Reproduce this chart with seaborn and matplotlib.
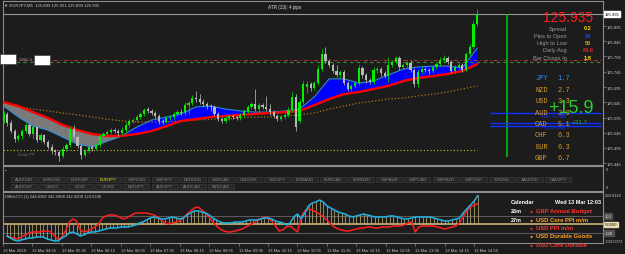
import numpy as np
import matplotlib
matplotlib.use("Agg")
import matplotlib.pyplot as plt
from matplotlib.patches import Rectangle
import seaborn as sns

sns.set_theme(style="dark")
plt.rcParams['font.family'] = ['Liberation Sans', 'DejaVu Sans']

W, H = 625, 255
BG = '#1c1c1c'
EDGE = '#8c8c8c'
TXT = '#c8c8c8'

# ==================== EURJPY M5 candles ====================
opens = [125.584, 125.607, 125.577, 125.551, 125.525, 125.535, 125.551, 125.571, 125.541, 125.564,
         125.521, 125.538, 125.515, 125.499, 125.485, 125.482, 125.469, 125.492, 125.505, 125.558,
         125.531, 125.502, 125.472, 125.485, 125.499, 125.492, 125.505, 125.535, 125.541, 125.548,
         125.554, 125.551, 125.544, 125.554, 125.571, 125.584, 125.587, 125.597, 125.607, 125.623,
         125.617, 125.610, 125.600, 125.584, 125.581, 125.594, 125.597, 125.607, 125.613, 125.610,
         125.636, 125.643, 125.659, 125.656, 125.646, 125.640, 125.633, 125.630, 125.607, 125.590,
         125.584, 125.594, 125.600, 125.597, 125.594, 125.604, 125.617, 125.630, 125.640, 125.623,
         125.636, 125.630, 125.623, 125.613, 125.600, 125.590, 125.597, 125.604, 125.620, 125.663,
         125.584, 125.646, 125.695, 125.705, 125.692, 125.708, 125.754, 125.804, 125.781, 125.768,
         125.748, 125.735, 125.745, 125.708, 125.689, 125.699, 125.708, 125.758, 125.735, 125.718,
         125.712, 125.751, 125.754, 125.741, 125.731, 125.768, 125.777, 125.790, 125.761, 125.768,
         125.774, 125.751, 125.705, 125.745, 125.754, 125.751, 125.748, 125.761, 125.771, 125.784,
         125.790, 125.777, 125.748, 125.761, 125.768, 125.751, 125.804, 125.827, 125.902]
closes = [125.607, 125.577, 125.551, 125.525, 125.535, 125.551, 125.571, 125.541, 125.564, 125.521,
          125.538, 125.515, 125.499, 125.485, 125.482, 125.469, 125.492, 125.505, 125.558, 125.531,
          125.502, 125.472, 125.485, 125.499, 125.492, 125.505, 125.535, 125.541, 125.548, 125.554,
          125.551, 125.544, 125.554, 125.571, 125.584, 125.587, 125.597, 125.607, 125.620, 125.617,
          125.610, 125.600, 125.584, 125.581, 125.594, 125.597, 125.607, 125.613, 125.610, 125.636,
          125.643, 125.659, 125.656, 125.646, 125.640, 125.633, 125.630, 125.607, 125.590, 125.584,
          125.594, 125.600, 125.597, 125.594, 125.604, 125.617, 125.630, 125.640, 125.623, 125.636,
          125.630, 125.623, 125.613, 125.600, 125.590, 125.597, 125.604, 125.620, 125.663, 125.564,
          125.646, 125.705, 125.705, 125.692, 125.708, 125.754, 125.804, 125.781, 125.768, 125.748,
          125.735, 125.745, 125.708, 125.689, 125.699, 125.708, 125.758, 125.735, 125.718, 125.712,
          125.751, 125.754, 125.741, 125.731, 125.768, 125.777, 125.790, 125.761, 125.768, 125.774,
          125.751, 125.705, 125.745, 125.754, 125.751, 125.748, 125.761, 125.771, 125.784, 125.790,
          125.777, 125.748, 125.761, 125.768, 125.751, 125.804, 125.827, 125.902, 125.935]
highs = [125.617, 125.613, 125.587, 125.558, 125.541, 125.558, 125.577, 125.577, 125.574, 125.567,
         125.544, 125.541, 125.521, 125.508, 125.492, 125.489, 125.502, 125.512, 125.567, 125.571,
         125.538, 125.508, 125.492, 125.505, 125.505, 125.512, 125.541, 125.548, 125.554, 125.561,
         125.561, 125.558, 125.564, 125.581, 125.590, 125.594, 125.604, 125.613, 125.626, 125.630,
         125.623, 125.617, 125.607, 125.590, 125.600, 125.604, 125.613, 125.620, 125.623, 125.646,
         125.649, 125.669, 125.682, 125.672, 125.656, 125.646, 125.640, 125.636, 125.613, 125.597,
         125.600, 125.607, 125.607, 125.604, 125.610, 125.623, 125.636, 125.646, 125.689, 125.643,
         125.643, 125.666, 125.640, 125.620, 125.607, 125.604, 125.610, 125.630, 125.679, 125.672,
         125.656, 125.715, 125.715, 125.712, 125.715, 125.768, 125.820, 125.827, 125.787, 125.774,
         125.768, 125.751, 125.751, 125.715, 125.705, 125.715, 125.768, 125.764, 125.741, 125.725,
         125.761, 125.761, 125.761, 125.748, 125.794, 125.784, 125.797, 125.797, 125.774, 125.781,
         125.784, 125.758, 125.754, 125.761, 125.761, 125.758, 125.768, 125.777, 125.794, 125.800,
         125.797, 125.784, 125.768, 125.774, 125.774, 125.810, 125.836, 125.912, 125.951]
lows = [125.577, 125.567, 125.544, 125.515, 125.518, 125.525, 125.544, 125.535, 125.525, 125.515,
        125.515, 125.508, 125.492, 125.476, 125.472, 125.453, 125.463, 125.485, 125.499, 125.525,
        125.495, 125.459, 125.466, 125.479, 125.485, 125.489, 125.499, 125.528, 125.535, 125.541,
        125.544, 125.535, 125.538, 125.548, 125.564, 125.577, 125.581, 125.590, 125.600, 125.610,
        125.604, 125.594, 125.574, 125.574, 125.577, 125.587, 125.590, 125.600, 125.604, 125.604,
        125.607, 125.636, 125.646, 125.640, 125.633, 125.623, 125.617, 125.600, 125.584, 125.577,
        125.577, 125.587, 125.590, 125.587, 125.587, 125.597, 125.610, 125.623, 125.617, 125.613,
        125.623, 125.617, 125.604, 125.594, 125.584, 125.584, 125.590, 125.597, 125.613, 125.551,
        125.577, 125.640, 125.676, 125.682, 125.686, 125.702, 125.748, 125.774, 125.761, 125.741,
        125.728, 125.725, 125.702, 125.682, 125.682, 125.692, 125.702, 125.725, 125.708, 125.705,
        125.705, 125.741, 125.731, 125.725, 125.712, 125.761, 125.771, 125.751, 125.754, 125.761,
        125.745, 125.695, 125.695, 125.741, 125.745, 125.738, 125.741, 125.754, 125.764, 125.777,
        125.771, 125.741, 125.741, 125.754, 125.745, 125.745, 125.797, 125.820, 125.895]

# moving averages, read every 4 bars
ma_bars = [0, 4, 8, 12, 16, 20, 24, 28, 32, 36, 40, 44, 48, 52, 56, 60, 64,
           68, 72, 76, 80, 84, 88, 92, 96, 100, 104, 108, 112, 116, 120, 124, 128]
slow_ma = [125.646, 125.633, 125.613, 125.594, 125.571, 125.554, 125.541, 125.535, 125.535, 125.541,
           125.551, 125.567, 125.584, 125.590, 125.597, 125.600, 125.604, 125.607, 125.610, 125.613,
           125.617, 125.636, 125.656, 125.672, 125.679, 125.689, 125.699, 125.715, 125.725, 125.731,
           125.738, 125.748, 125.771]
fast_ma = [125.633, 125.597, 125.567, 125.554, 125.531, 125.508, 125.499, 125.518, 125.535, 125.564,
           125.587, 125.597, 125.607, 125.630, 125.633, 125.623, 125.617, 125.613, 125.613, 125.617,
           125.623, 125.663, 125.722, 125.722, 125.708, 125.715, 125.735, 125.754, 125.761, 125.764,
           125.764, 125.758, 125.823]
long_ma = [125.636, 125.630, 125.623, 125.617, 125.610, 125.604, 125.597, 125.590, 125.584, 125.581,
           125.581, 125.581, 125.584, 125.587, 125.590, 125.590, 125.594, 125.597, 125.597, 125.600,
           125.604, 125.610, 125.623, 125.633, 125.643, 125.649, 125.656, 125.659, 125.666, 125.672,
           125.679, 125.689, 125.699]

price_ticks = [125.446, 125.496, 125.546, 125.595, 125.645, 125.695, 125.746, 125.796, 125.846, 125.895]
last_price = 125.935
pivot_line = 125.489
sr_red, sr_green = 125.784, 125.777
ema_levels = [125.610, 125.576, 125.569]

# ==================== CCI window ====================
cci_fast = [-135, -159, -182, -194, -182, -171, -159, -159, -147, -147,
            -147, -171, -182, -194, -194, -159, -135, -100, -88, -112,
            -135, -123, -100, -88, -88, -76, -65, -53, -41, -41,
            -41, -29, -29, -29, -18, -6, 18, 29, 53, 76,
            88, 76, 65, 65, 76, 88, 76, 65, 76, 112,
            135, 159, 159, 147, 135, 112, 76, 53, 29, 18,
            18, 18, 29, 29, 29, 41, 53, 53, 53, 65,
            76, 76, 65, 41, 29, 18, -6, 18, 88, 123,
            65, 135, 218, 253, 265, 288, 265, 218, 194, 171,
            147, 135, 123, 100, 88, 100, 112, 123, 112, 100,
            88, 88, 88, 88, 100, 100, 88, 76, 65, 65,
            76, 88, 88, 88, 88, 88, 76, 65, 53, 41,
            41, 53, 65, 76, 135, 182, 229, 276, 342]
cci_slow = [-135, -147, -159, -171, -147, -123, -100, -88, -88, -88,
            -76, -76, -88, -135, -182, -147, -76, 29, 65, 41,
            -65, -88, -76, -53, -29, 6, 76, 100, 112, 112,
            100, 76, 65, 88, 112, 135, 135, 135, 135, 123,
            112, 88, 53, 18, 6, 18, 29, 41, 76, 123,
            159, 194, 206, 171, 135, 88, 29, -18, -53, -76,
            -88, -88, -76, -65, -53, -29, -6, 18, 41, 65,
            88, 76, 41, -18, -76, -65, -29, -18, -53, -88,
            88, 159, 182, 171, 147, 123, 88, 53, 6, -29,
            -53, -65, -76, -76, -65, -53, -41, -41, -29, -29,
            -41, -41, -29, -29, -29, -18, -18, -18, -6, 18,
            29, -88, -29, -18, -18, -18, -18, -29, -41, -53,
            -41, -29, -18, 18, 88, 159, 206, 229, 244]

time_labels = ["13 Mar 2019", "13 Mar 04:55", "13 Mar 05:35", "13 Mar 06:15", "13 Mar 06:55",
               "13 Mar 07:35", "13 Mar 08:15", "13 Mar 08:55", "13 Mar 09:35", "13 Mar 10:15",
               "13 Mar 10:55", "13 Mar 11:35", "13 Mar 12:15", "13 Mar 12:55", "13 Mar 13:35",
               "13 Mar 14:15", "13 Mar 14:55"]
time_label_bars = [-1, 7, 15, 23, 31, 39, 47, 55, 63, 71, 79, 87, 95, 103, 111, 119, 127]

symbols_row1 = ["AUDUSD", "EURUSD", "EURGBP", "EURJPY", "GBPUSD", "GBPJPY", "NZDUSD", "USDCAD",
                "USDCHF", "USDJPY", "EURAUD", "EURCAD", "EURNZD", "GBPAUD", "GBPCAD", "GBPNZD",
                "GBPCHF", "XTIUSD", "XAUUSD", "CADJPY"]
symbols_row2 = ["AUDCHF", "US500", "DE30", "UK100", "NZDJPY", "AUDJPY", "AUDCAD", "NZDCAD"]

currencies = ["JPY", "NZD", "USD", "AUD", "CAD", "CHF", "EUR", "GBP"]
strength = ["1.7", "2.7", "3.3", "3.9", "5.1", "6.3", "6.3", "6.7"]

info_labels = ["Spread", "Pips to Open", "High to Low", "Daily Avg", "Bar Closes In"]
info_values = ["0.2", "24", "50", "84.0", "1:8"]
info_colors = ['#ffd700', '#2040ff', '#d4a020', '#ff2020', '#ffd700']

calendar_rows = [("26m", "GBP Annual Budget", '#ff3030'),
                 ("27m", "USD Core PPI m/m", '#ffa020'),
                 ("", "USD PPI m/m", '#ff3030'),
                 ("", "USD Durable Goods", '#ffa020'),
                 ("", "USD Core Durable", '#ff3030')]

# ==================== figure ====================
fig = plt.figure(figsize=(W / 100, H / 100), dpi=100, facecolor=BG)


def px_axes(x0, y0, x1, y1):
    return fig.add_axes([x0 / W, 1 - y1 / H, (x1 - x0) / W, (y1 - y0) / H])


def style_panel(a):
    a.set_facecolor(BG)
    a.grid(False)
    for s in a.spines.values():
        s.set_color(EDGE)
        s.set_linewidth(0.8)


XLIM = (-0.14, 162.0)

# ---------- main price window ----------
ax = px_axes(3, 2, 603, 166)
style_panel(ax)
ax.set_xlim(*XLIM)
ax.set_ylim(125.4396, 125.9774)

bars = np.arange(len(closes))
o, hi, lo, c = map(np.array, (opens, highs, lows, closes))
up = c >= o

g = np.array(ma_bars)
sm, fm = np.array(slow_ma), np.array(fast_ma)
ax.fill_between(g, sm, fm, where=fm >= sm, interpolate=True, color='#0000ff', lw=0, zorder=1)
ax.fill_between(g, sm, fm, where=fm <= sm, interpolate=True, color='#7a7a7a', lw=0, zorder=1)
sns.lineplot(x=ma_bars, y=fast_ma, ax=ax, color='#2c8ad8', lw=0.8, zorder=2)
sns.lineplot(x=ma_bars, y=long_ma, ax=ax, color='#b07818', lw=0.9, linestyle=':', zorder=2)
sns.lineplot(x=ma_bars, y=slow_ma, ax=ax, color='#ff0000', lw=1.7, zorder=3)

ax.vlines(bars, lo, hi, colors=np.where(up, '#00c800', '#a8a8a8'), lw=0.6, zorder=4)
ax.bar(bars, np.abs(c - o) + 0.001, bottom=np.minimum(o, c), width=0.6,
       color=np.where(up, '#00f000', '#b8b8b8'), lw=0, zorder=5)

ax.axhline(sr_red, color='#b03030', lw=0.8, ls=(0, (4, 2, 1, 2)), zorder=2)
ax.axhline(sr_green, color='#3a8a3a', lw=0.8, ls=(0, (3, 3)), zorder=2)
ax.hlines(pivot_line, -1, 128, color='#c8c832', lw=0.8, ls=(0, (1, 2)), zorder=2)
ax.axhline(last_price, color='#9a9a9a', lw=0.8, zorder=2)
ax.vlines(136.1, 125.466, last_price, color='#00c000', lw=1.2, zorder=2)
for lv in ema_levels:
    ax.hlines(lv, 131.5, 161.5, color='#1030ff', lw=1.0, zorder=6)

ax.yaxis.tick_right()
ax.set_yticks(price_ticks)
ax.set_yticklabels([f"{p:.3f}" for p in price_ticks])
ax.tick_params(axis='y', right=True, length=2, width=0.5, color=EDGE,
               labelsize=3.0, labelcolor=TXT, pad=1)
ax.set_xticks([])
ax.set_xlabel("")
ax.set_ylabel("")

# ---------- symbol buttons window ----------
bx = px_axes(3, 167, 603, 192)
style_panel(bx)
bx.set_xlim(3, 603)
bx.set_ylim(192, 167)
bx.set_xticks([])
bx.set_yticks([])
for row, (syms, ytop) in enumerate([(symbols_row1, 177.5), (symbols_row2, 184.8)]):
    for k, s in enumerate(syms):
        x0 = 11 + 28.1 * k
        bx.add_patch(Rectangle((x0, ytop), 26, 5.2, facecolor='#262626', edgecolor='#3a3a3a', lw=0.5))
        bx.text(x0 + 13, ytop + 2.7, s, ha='center', va='center', fontsize=3.1,
                color='#e8e830' if s == "EURJPY" else '#8a8a8a')
bx.text(5, 171, "\u25aa", fontsize=3, color=TXT, va='center')

# ---------- CCI window ----------
cx = px_axes(3, 193, 603, 244)
style_panel(cx)
cx.set_xlim(*XLIM)
cx.set_ylim(-218, 382)
cx.axhline(100, color='#5a5a5a', lw=0.8, zorder=1)
cx.axhline(-100, color='#5a5a5a', lw=0.8, zorder=1)
cx.axhline(0, color='#c8b478', lw=1.2, zorder=1)
cx.vlines(bars, 0, cci_fast, color='#c8b478', lw=0.5, zorder=2)
sns.lineplot(x=bars, y=cci_slow, ax=cx, color='#ff1e1e', lw=1.1, zorder=3)
sns.lineplot(x=bars, y=cci_fast, ax=cx, color='#1eb4e6', lw=1.1, zorder=4)
cx.set_yticks([])
cx.set_ylabel("")
cx.set_xticks(time_label_bars)
cx.set_xticklabels(time_labels, ha='left', fontsize=3.0, color=TXT)
cx.tick_params(axis='x', bottom=True, length=2, width=0.5, color=EDGE, pad=1.5)

# ---------- text overlay in pixel coordinates ----------
ov = fig.add_axes([0, 0, 1, 1], zorder=10)
ov.set_xlim(0, W)
ov.set_ylim(H, 0)
ov.axis('off')

ov.text(4, 6, "\u25bc EURJPY,M5  125.899 125.951 125.899 125.935", fontsize=3.1, color=TXT, va='center')
ov.text(285, 7, "ATR (13): 4 pips", fontsize=3.3, color='#e0e0e0', va='center', ha='center')

# line labels on the left
ov.add_patch(Rectangle((0, 55), 16, 10, facecolor='white', edgecolor='#404040', lw=0.5))
ov.add_patch(Rectangle((34, 56), 16, 10, facecolor='white', edgecolor='#404040', lw=0.5))
ov.text(25, 60, "S000 4", fontsize=3.0, color='#909090', ha='center', va='center')
ov.text(18, 155, "Daily PP", fontsize=3.2, color='#707070', va='center')

# price box on the axis
ov.text(605, 15, "125.935", fontsize=3.0, color='black', va='center',
        bbox=dict(boxstyle='square,pad=0.15', fc='white', ec='white'))

# info block
ov.text(593, 18, "125.935", fontsize=10, color='#ff2020', ha='right', va='center')
for k, (lab, val, col) in enumerate(zip(info_labels, info_values, info_colors)):
    y = 29 + 7.3 * k
    ov.text(567, y, lab, fontsize=4.1, color='#9a9a9a', ha='right', va='center')
    ov.text(588, y, val, fontsize=4.0, color=col, ha='center', va='center', fontweight='bold')

for k, (cur, val) in enumerate(zip(currencies, strength)):
    y = 79 + 11.4 * k
    col = '#3c8ce6' if cur == "JPY" else '#d49a28'
    ov.text(535, y, cur, fontsize=5, color=col, va='center', family='Liberation Mono')
    ov.text(558, y, val, fontsize=5, color=col, va='center', family='Liberation Mono')

ov.text(571, 109, "+15.9", fontsize=13, color='#28d028', ha='center', va='center')
ov.text(580, 123, "+31.7", fontsize=4.5, color='#28b028', ha='center', va='center')
ov.text(554, 117, "DAY 34 EMA", fontsize=3.0, color='#1030ff', ha='center', va='center')
ov.text(554, 128, "H1 34 EMA", fontsize=3.0, color='#1030ff', ha='center', va='center')

# separate window labels
ov.text(606, 170, "0", fontsize=3.0, color=TXT, va='center')
ov.text(606, 188, "0", fontsize=3.0, color=TXT, va='center')
ov.text(5, 197, "D8blkCCI (1) 244.6382 342.4908 342.4908 124.5390", fontsize=3.0, color=TXT, va='center')
ov.text(605, 196, "290.0118", fontsize=3.0, color=TXT, va='center')
ov.text(605, 217, "100", fontsize=3.0, color='#e0e0e0', va='center',
        bbox=dict(boxstyle='square,pad=0.15', fc='#505050', ec='#505050'))
ov.text(605, 225.5, "0.0000", fontsize=3.0, color='#202020', va='center',
        bbox=dict(boxstyle='square,pad=0.15', fc='#e8dcb0', ec='#e8dcb0'))
ov.text(605, 234, "-100", fontsize=3.0, color='#e0e0e0', va='center',
        bbox=dict(boxstyle='square,pad=0.15', fc='#505050', ec='#505050'))
ov.text(605, 242, "-233.0073", fontsize=3.0, color=TXT, va='center')

# calendar
ov.text(511, 203, "Calendar", fontsize=4.0, color='white', va='center', fontweight='bold')
ov.text(601, 203, "Wed 13 Mar 12:03", fontsize=4.0, color='white', va='center', ha='right', fontweight='bold')
for k, (t, ev, col) in enumerate(calendar_rows):
    y = 212 + 8.3 * k
    if t:
        ov.text(511, y, t, fontsize=4.0, color='white', va='center', fontweight='bold')
    ov.text(531, y, "\u25cf", fontsize=3.6, color=col, va='center', ha='center')
    txt = ov.text(536, y, ev, fontsize=4.2, color=col, va='center', fontweight='bold')
    txt.set_clip_path(Rectangle((500, 193), 103, 51, transform=ov.transData))

fig.savefig("out.png", dpi=100, facecolor=BG)
